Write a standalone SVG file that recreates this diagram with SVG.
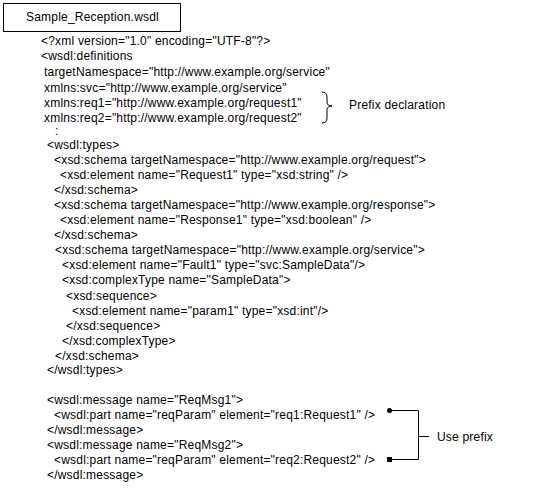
<svg xmlns="http://www.w3.org/2000/svg" width="540" height="494" viewBox="0 0 540 494">
<style>
text{font-family:"Liberation Sans",Arial,sans-serif;font-size:12px;letter-spacing:0.2px;fill:#000}
.ln{stroke:#000;stroke-width:1;fill:none}
</style>
<rect width="540" height="494" fill="#fff"/>
<g id="title">
<rect x="3.5" y="3.5" width="177" height="28" class="ln"/>
<text x="26" y="21">Sample_Reception.wsdl</text>
</g>
<g id="code">
<text x="41" y="45">&lt;?xml version="1.0" encoding="UTF-8"?&gt;</text>
<text x="41" y="60">&lt;wsdl:definitions</text>
<text x="44" y="76">targetNamespace="http://www.example.org/service"</text>
<text x="44" y="92">xmlns:svc="http://www.example.org/service"</text>
<text x="44" y="107">xmlns:req1="http://www.example.org/request1"</text>
<text x="44" y="122">xmlns:req2="http://www.example.org/request2"</text>
<text x="55" y="135">:</text>
<text x="47" y="149">&lt;wsdl:types&gt;</text>
<text x="54" y="164">&lt;xsd:schema targetNamespace="http://www.example.org/request"&gt;</text>
<text x="60" y="179">&lt;xsd:element name="Request1" type="xsd:string" /&gt;</text>
<text x="54" y="194">&lt;/xsd:schema&gt;</text>
<text x="54" y="209">&lt;xsd:schema targetNamespace="http://www.example.org/response"&gt;</text>
<text x="60" y="224">&lt;xsd:element name="Response1" type="xsd:boolean" /&gt;</text>
<text x="54" y="239">&lt;/xsd:schema&gt;</text>
<text x="55" y="254">&lt;xsd:schema targetNamespace="http://www.example.org/service"&gt;</text>
<text x="62" y="269">&lt;xsd:element name="Fault1" type="svc:SampleData"/&gt;</text>
<text x="62" y="284">&lt;xsd:complexType name="SampleData"&gt;</text>
<text x="66" y="300">&lt;xsd:sequence&gt;</text>
<text x="72" y="315">&lt;xsd:element name="param1" type="xsd:int"/&gt;</text>
<text x="66" y="330">&lt;/xsd:sequence&gt;</text>
<text x="62" y="345">&lt;/xsd:complexType&gt;</text>
<text x="55" y="360">&lt;/xsd:schema&gt;</text>
<text x="47" y="374">&lt;/wsdl:types&gt;</text>
<text x="47" y="404">&lt;wsdl:message name="ReqMsg1"&gt;</text>
<text x="54" y="419">&lt;wsdl:part name="reqParam" element="req1:Request1" /&gt;</text>
<text x="47" y="434">&lt;/wsdl:message&gt;</text>
<text x="47" y="449">&lt;wsdl:message name="ReqMsg2"&gt;</text>
<text x="54" y="464">&lt;wsdl:part name="reqParam" element="req2:Request2" /&gt;</text>
<text x="47" y="479">&lt;/wsdl:message&gt;</text>
</g>
<g id="prefix-declaration">
<path class="ln" d="M322,92 Q327,92 327,97 L327,102 Q327,106 332,106 Q327,106 327,110 L327,118 Q327,123 322,123"/>
<text x="349" y="109">Prefix declaration</text>
</g>
<g id="connectors">
<path class="ln" d="M389.5,410.5 H418.5 V459.5 H389.5 M418.5,436.5 H429"/>
<circle cx="389.5" cy="410.5" r="2.5" fill="#000"/>
<rect x="387" y="457" width="5" height="5" fill="#000"/>
</g>
<g id="use-prefix">
<text x="437" y="441">Use prefix</text>
</g>
</svg>
